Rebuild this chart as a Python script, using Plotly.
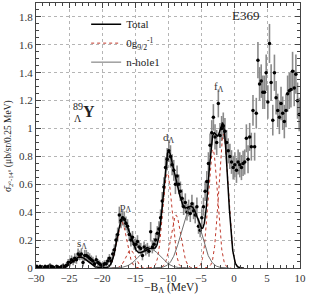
import numpy as np
import plotly.graph_objects as go

# ---- data: 0.25 MeV bins from -30 to 10 MeV ----
bin_start = -29.875
bin_width = 0.25
yield_vals = [
    0.01, 0.00, 0.01, 0.005, 0.00, 0.01, 0.005, 0.01, 0.015, 0.01, 0.005, 0.00, 0.01, 0.005, 0.00, 0.01, 0.015, 0.01, 0.02, 0.04,
    0.04, 0.06, 0.05, 0.07, 0.06, 0.10, 0.09, 0.10, 0.04, 0.09, 0.09, 0.08, 0.07, 0.06, 0.05, 0.03, 0.06, 0.04, 0.03, 0.02,
    0.02, 0.03, 0.03, 0.05, 0.07, 0.05, 0.10, 0.13, 0.20, 0.24, 0.38, 0.34, 0.36, 0.35, 0.32, 0.30, 0.24, 0.20, 0.22, 0.17,
    0.17, 0.19, 0.15, 0.14, 0.09, 0.15, 0.13, 0.14, 0.12, 0.26, 0.15, 0.17, 0.20, 0.25, 0.28, 0.36, 0.48, 0.58, 0.72, 0.78,
    0.84, 0.80, 0.74, 0.70, 0.60, 0.66, 0.60, 0.55, 0.50, 0.44, 0.47, 0.40, 0.43, 0.39, 0.46, 0.41, 0.38, 0.44, 0.30, 0.27,
    0.36, 0.44, 0.55, 0.62, 0.75, 0.88, 0.97, 1.08, 0.94, 0.90, 1.18, 0.95, 1.00, 1.02, 0.98, 0.90, 0.84, 0.80, 0.76, 0.72,
    0.74, 0.70, 0.76, 0.74, 0.72, 0.75, 0.76, 0.93, 0.78, 0.94, 0.87, 1.13, 0.87, 1.11, 1.49, 1.32, 1.34, 1.26, 1.26, 1.40,
    1.19, 1.61, 1.33, 1.06, 1.40, 1.22, 1.13, 1.08, 1.18, 1.11, 1.05, 1.13, 1.25, 1.27, 1.28, 1.41, 1.29, 1.39, 1.20, 1.10,
]
yield_errs = [
    0.015, 0.015, 0.015, 0.015, 0.015, 0.015, 0.015, 0.015, 0.02, 0.015, 0.015, 0.015, 0.015, 0.015, 0.015, 0.015, 0.02, 0.015, 0.02, 0.025,
    0.03, 0.03, 0.03, 0.035, 0.03, 0.04, 0.035, 0.04, 0.03, 0.04, 0.04, 0.035, 0.035, 0.03, 0.03, 0.025, 0.03, 0.025, 0.025, 0.02,
    0.02, 0.025, 0.025, 0.03, 0.03, 0.03, 0.035, 0.04, 0.045, 0.05, 0.06, 0.055, 0.055, 0.055, 0.05, 0.05, 0.045, 0.045, 0.045, 0.04,
    0.04, 0.045, 0.04, 0.04, 0.035, 0.04, 0.04, 0.04, 0.04, 0.07, 0.045, 0.045, 0.05, 0.05, 0.055, 0.06, 0.065, 0.07, 0.075, 0.08,
    0.08, 0.08, 0.075, 0.075, 0.07, 0.075, 0.07, 0.07, 0.065, 0.06, 0.065, 0.06, 0.06, 0.06, 0.065, 0.06, 0.06, 0.065, 0.055, 0.05,
    0.06, 0.065, 0.07, 0.075, 0.08, 0.085, 0.09, 0.095, 0.09, 0.09, 0.10, 0.09, 0.09, 0.095, 0.095, 0.09, 0.09, 0.09, 0.085, 0.085,
    0.09, 0.09, 0.09, 0.09, 0.09, 0.09, 0.09, 0.10, 0.10, 0.10, 0.10, 0.11, 0.10, 0.11, 0.13, 0.12, 0.12, 0.12, 0.12, 0.13,
    0.12, 0.14, 0.13, 0.11, 0.13, 0.12, 0.12, 0.12, 0.12, 0.12, 0.12, 0.12, 0.13, 0.13, 0.13, 0.14, 0.13, 0.14, 0.13, 0.12,
]

# ---- fit components (Gaussian peaks) ----
lam_centers = [-23.3, -17.0, -15.7, -10.1, -8.8, -3.2, -1.6]
lam_heights = [0.08, 0.33, 0.13, 0.68, 0.38, 0.85, 0.96]
lam_sigmas = [1.1, 0.75, 0.7, 0.7, 0.75, 0.7, 0.7]
nh_centers = [-12.8, -6.5]
nh_heights = [0.14, 0.44]
nh_sigmas = [1.6, 1.45]
fit_range = [-30.0, 1.5]

peak_labels = ["s<sub>Λ</sub>", "p<sub>Λ</sub>", "d<sub>Λ</sub>", "f<sub>Λ</sub>"]
peak_label_x = [-23.0, -16.4, -9.9, -2.3]
peak_label_y = [0.17, 0.44, 0.93, 1.30]

x_bins = [bin_start + bin_width * i for i in range(len(yield_vals))]
xf = np.linspace(fit_range[0], fit_range[1], 1200)


def gauss(x, c, h, s):
    return h * np.exp(-0.5 * ((x - c) / s) ** 2)


serif = "Liberation Serif"
fig = go.Figure()

total = np.zeros_like(xf)
for c, h, s in zip(lam_centers, lam_heights, lam_sigmas):
    total += gauss(xf, c, h, s)
for c, h, s in zip(nh_centers, nh_heights, nh_sigmas):
    total += gauss(xf, c, h, s)

fig.add_trace(go.Scatter(
    x=x_bins, y=yield_vals, mode="markers",
    marker=dict(color="black", size=3.5),
    error_y=dict(type="data", array=yield_errs, color="#8a8a8a", thickness=1.6, width=0),
    showlegend=False))

for i, (c, h, s) in enumerate(zip(lam_centers, lam_heights, lam_sigmas)):
    m = (xf > c - 4 * s) & (xf < c + 4 * s)
    fig.add_trace(go.Scatter(
        x=xf[m], y=gauss(xf[m], c, h, s), mode="lines",
        line=dict(color="#c0392b", width=1, dash="dot"),
        name="0g<sub>9/2</sub><sup>-1</sup>", legendgroup="lam",
        showlegend=(i == 0), legendrank=2))

for i, (c, h, s) in enumerate(zip(nh_centers, nh_heights, nh_sigmas)):
    m = (xf > c - 4 * s) & (xf < c + 4 * s)
    fig.add_trace(go.Scatter(
        x=xf[m], y=gauss(xf[m], c, h, s), mode="lines",
        line=dict(color="#6e6e6e", width=1),
        name="n-hole1", legendgroup="nh",
        showlegend=(i == 0), legendrank=3))

fig.add_trace(go.Scatter(
    x=xf, y=total, mode="lines",
    line=dict(color="black", width=1.5),
    name="Total", legendrank=1))

for t, x, y in zip(peak_labels, peak_label_x, peak_label_y):
    fig.add_annotation(x=x, y=y, text=t, showarrow=False,
                       font=dict(family=serif, size=11, color="#333"))

fig.add_annotation(x=1.7, y=1.81, text="E369", showarrow=False,
                   font=dict(family=serif, size=13, color="#222"))
fig.add_annotation(x=-23.6, y=1.16, text="89", showarrow=False,
                   font=dict(family=serif, size=10, color="#222"))
fig.add_annotation(x=-23.6, y=1.07, text="Λ", showarrow=False,
                   font=dict(family=serif, size=10, color="#222"))
fig.add_annotation(x=-22.0, y=1.12, text="<b>Y</b>", showarrow=False,
                   font=dict(family=serif, size=16, color="#222"))

# axis titles as annotations for exact placement
fig.add_annotation(xref="paper", yref="paper", x=-0.106, y=0.46,
                   text="σ̄<sub>2°-14°</sub> (μb/sr/0.25 MeV)", textangle=-90,
                   showarrow=False, xanchor="center", yanchor="middle",
                   font=dict(family=serif, size=9.5, color="#222"))
fig.add_annotation(xref="paper", yref="paper", x=0.51, y=-0.077,
                   text="−B<sub>Λ</sub> (MeV)", showarrow=False,
                   xanchor="center", yanchor="middle",
                   font=dict(family=serif, size=11.5, color="#222"))

axis_common = dict(
    showline=True, linecolor="#444", linewidth=1, mirror="ticks",
    ticks="inside", ticklen=5, tickcolor="#444",
    showgrid=True, gridcolor="#b5b5b5", griddash="dot", gridwidth=1,
    zeroline=False, automargin=False,
    tickfont=dict(family=serif, size=11, color="#333"),
)

fig.update_xaxes(range=[-30, 10], dtick=5,
                 minor=dict(ticks="inside", ticklen=3, dtick=1, tickcolor="#444", showgrid=False),
                 **axis_common)
fig.update_yaxes(range=[0, 1.9], dtick=0.2, tickformat="~g",
                 minor=dict(ticks="inside", ticklen=3, dtick=0.05, tickcolor="#444", showgrid=False),
                 **axis_common)

fig.update_layout(
    width=309, height=296,
    margin=dict(l=36, r=9, t=3, b=28),
    paper_bgcolor="white", plot_bgcolor="white",
    legend=dict(x=0.19, y=0.975, xanchor="left", yanchor="top",
                bgcolor="rgba(0,0,0,0)", font=dict(family=serif, size=11, color="#222"),
                tracegroupgap=0, itemwidth=30),
    showlegend=True,
)

fig.write_html("out.html")
